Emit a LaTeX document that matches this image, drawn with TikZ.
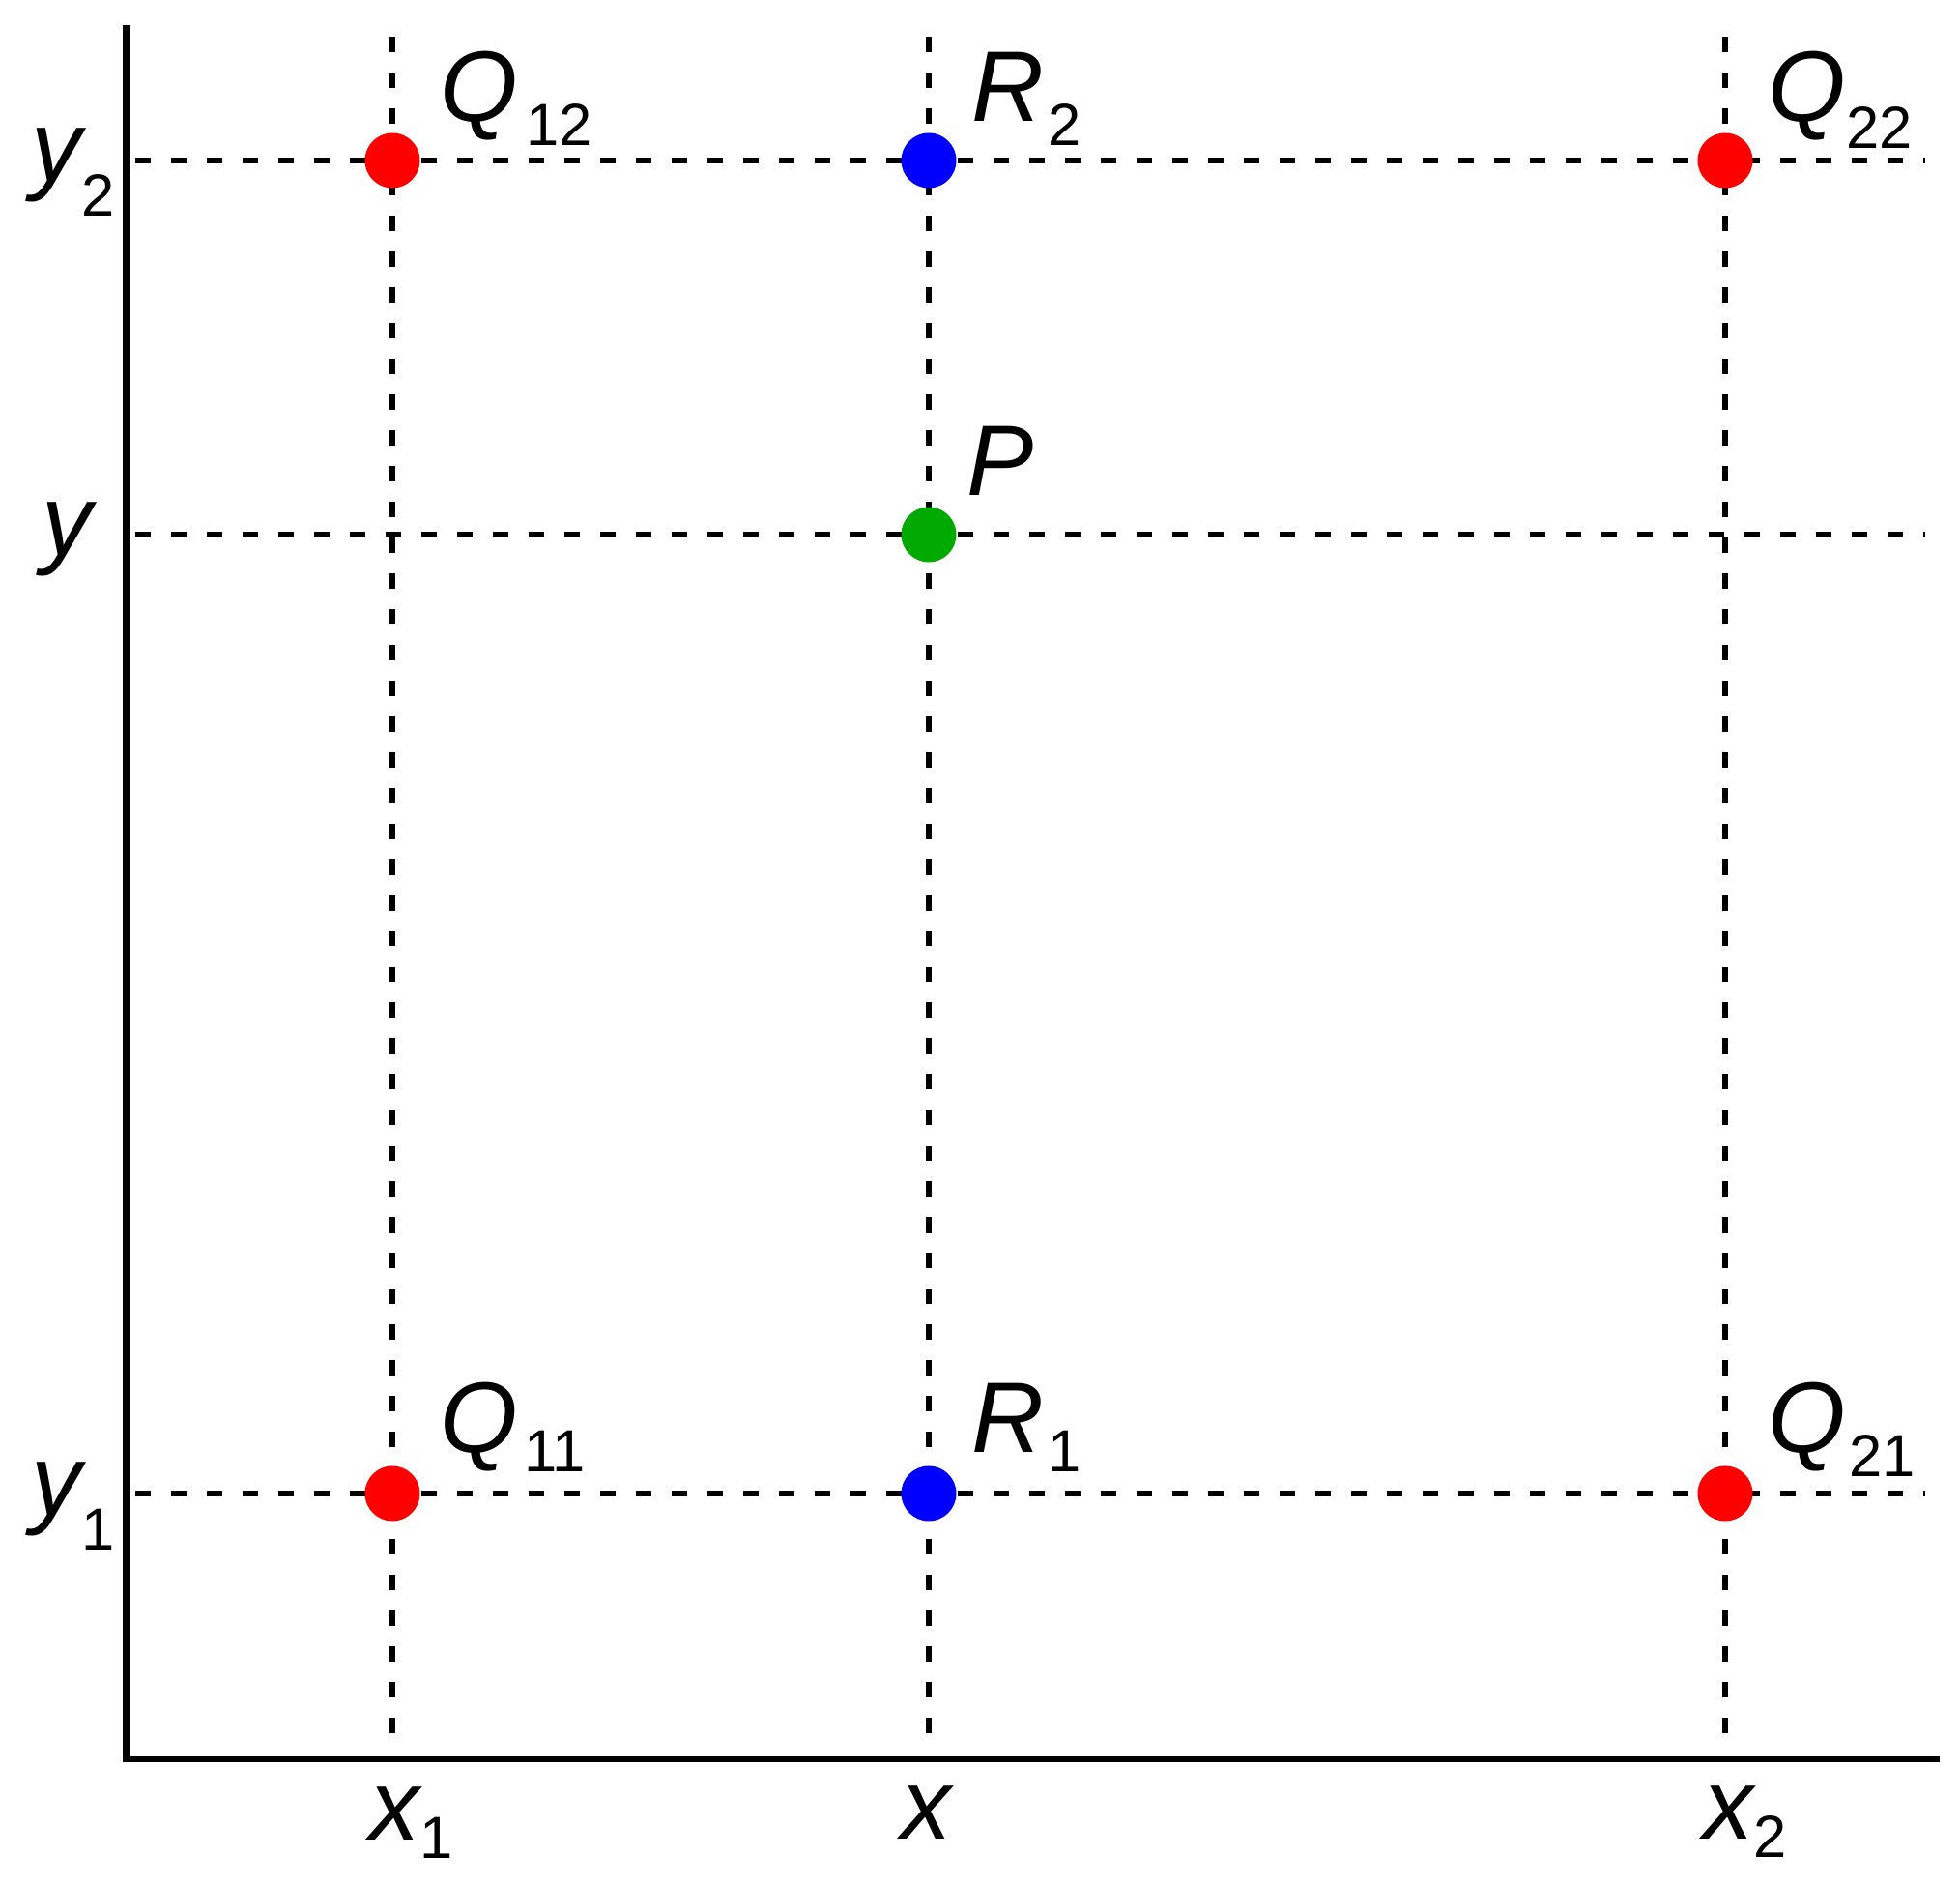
\documentclass[tikz,border=0pt]{standalone}
\usepackage{fontspec}
\setmainfont{Liberation Sans}
\definecolor{dotred}{RGB}{255,0,0}
\definecolor{dotblue}{RGB}{0,0,255}
\definecolor{dotgreen}{RGB}{0,170,0}
\newcommand{\subl}[2]{\raisebox{-#1cm}{\fontsize{17.5pt}{18pt}\selectfont\upshape #2}}
\tikzset{
  axisline/.style={line width=0.065cm, line join=miter},
  gridline/.style={line width=0.063cm, dash pattern=on 0.16cm off 0.21cm},
  pt/.style={circle, inner sep=0pt, minimum size=0.57cm},
  lab/.style={inner sep=0pt, anchor=base west, font=\fontsize{29.5pt}{30pt}\selectfont\itshape}
}
\begin{document}
\begin{tikzpicture}
\useasboundingbox (0,0) rectangle (20.28,19.5);
% axes
\coordinate (axtop) at (1.305,19.24);
\coordinate (axorig) at (1.305,1.30);
\coordinate (axright) at (20.07,1.30);
\draw[axisline] (axtop) -- (axorig) -- (axright);
% grid line ends
\coordinate (vx1t) at (4.06,19.12);  \coordinate (vx1b) at (4.06,1.40);
\coordinate (vxt) at (9.61,19.12);   \coordinate (vxb) at (9.61,1.40);
\coordinate (vx2t) at (17.85,19.12); \coordinate (vx2b) at (17.85,1.40);
\coordinate (hy2l) at (1.40,17.84);  \coordinate (hy2r) at (19.92,17.84);
\coordinate (hyl) at (1.40,13.97);   \coordinate (hyr) at (19.92,13.97);
\coordinate (hy1l) at (1.40,4.05);   \coordinate (hy1r) at (19.92,4.05);
\draw[gridline] (vx1t) -- (vx1b);
\draw[gridline] (vxt) -- (vxb);
\draw[gridline] (vx2t) -- (vx2b);
\draw[gridline] (hy2l) -- (hy2r);
\draw[gridline] (hyl) -- (hyr);
\draw[gridline] (hy1l) -- (hy1r);
% points
\node[pt, fill=dotred] (q12) at (4.06,17.84) {};
\node[pt, fill=dotblue] (r2) at (9.61,17.84) {};
\node[pt, fill=dotred] (q22) at (17.85,17.84) {};
\node[pt, fill=dotgreen] (p) at (9.61,13.97) {};
\node[pt, fill=dotred] (q11) at (4.06,4.05) {};
\node[pt, fill=dotblue] (r1) at (9.61,4.05) {};
\node[pt, fill=dotred] (q21) at (17.85,4.05) {};
% labels
\node[lab] (lq12) at (4.55,18.24) {Q\kern0.08cm\subl{0.25}{12}};
\node[lab] (lr2) at (10.05,18.24) {R\kern0.04cm\subl{0.25}{2}};
\node[lab] (lq22) at (18.29,18.24) {Q\subl{0.28}{22}};
\node[lab] (lp) at (10.0,14.37) {P};
\node[lab] (lq11) at (4.55,4.47) {Q\kern0.06cm\subl{0.2}{11}};
\node[lab] (lr1) at (10.05,4.47) {R\kern0.04cm\subl{0.19}{1}};
\node[lab] (lq21) at (18.29,4.47) {Q\kern0.03cm\subl{0.25}{21}};
\node[lab] (lx1) at (3.82,0.46) {x\subl{0.19}{1}};
\node[lab] (lx) at (9.32,0.48) {x};
\node[lab] (lx2) at (17.62,0.48) {x\subl{0.19}{2}};
\node[lab] (ly2) at (0.32,17.62) {y\subl{0.36}{2}};
\node[lab] (ly) at (0.43,13.75) {y};
\node[lab] (ly1) at (0.32,3.82) {y\subl{0.36}{1}};
\end{tikzpicture}
\end{document}
